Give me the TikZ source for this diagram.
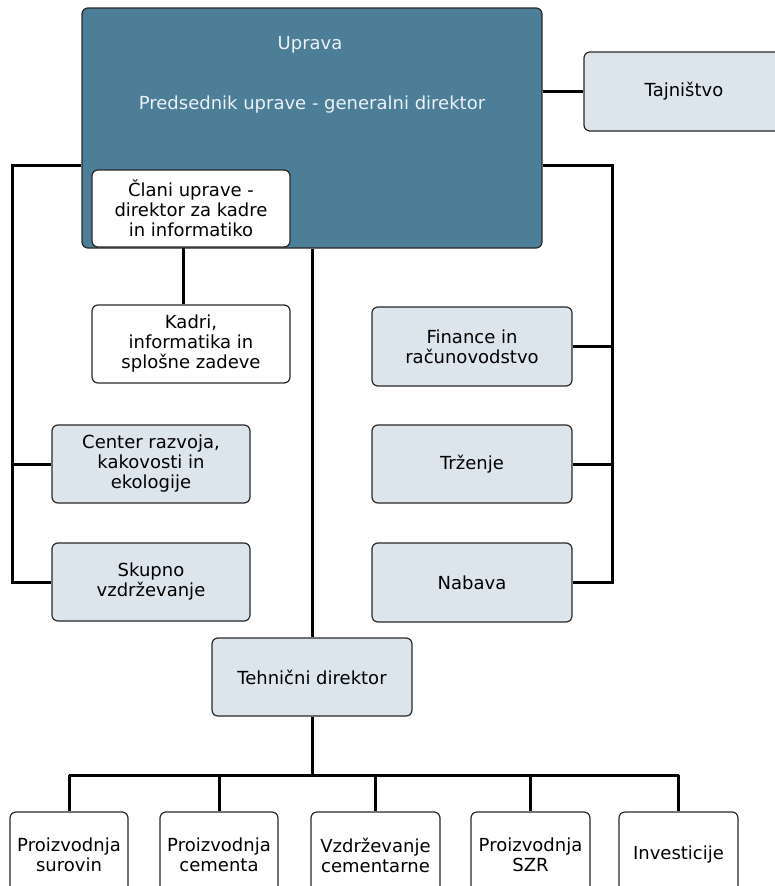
\documentclass[tikz,border=0pt]{standalone}
\usepackage{fontspec}
\setmainfont{DejaVu Sans}
\usepackage{tikz}

\definecolor{mainfill}{RGB}{76,126,152}
\definecolor{lightfill}{RGB}{221,229,236}
\definecolor{boxline}{RGB}{40,40,40}
\definecolor{maintext}{RGB}{236,241,245}

\begin{document}
\begin{tikzpicture}[x=1pt, y=-1pt,
  box/.style={draw=boxline, line width=1.2pt, rounded corners=6pt, align=center, inner sep=0pt, font=\fontsize{18}{20}\selectfont},
  lightbox/.style={box, fill=lightfill},
  whitebox/.style={box, fill=white},
  conn/.style={line width=3pt, black}]
\useasboundingbox (0,0) rectangle (775,886);
\clip (0,0) rectangle (775,886);
\node[box, fill=mainfill, minimum width=460pt, minimum height=240pt] (uprava) at (312,128) {};
\node[font=\fontsize{18}{20}\selectfont, text=maintext] (upravatxt) at (310,45) {Uprava};
\node[font=\fontsize{18}{20}\selectfont, text=maintext] (predsednik) at (312,105) {Predsednik uprave - generalni direktor};
\node[lightbox, minimum width=200pt, minimum height=79pt] (tajn) at (684,91.5) {Tajništvo};
\node[whitebox, minimum width=198pt, minimum height=77pt] (clani) at (191,208.5) {Člani uprave -\\direktor za kadre\\in informatiko};
\node[whitebox, minimum width=198pt, minimum height=78pt] (kadri) at (191,344) {Kadri,\\informatika in\\splošne zadeve};
\node[lightbox, minimum width=198pt, minimum height=78pt] (razvoj) at (151,464) {Center razvoja,\\kakovosti in\\ekologije};
\node[lightbox, minimum width=198pt, minimum height=78pt] (skupno) at (151,582) {Skupno\\vzdrževanje};
\node[lightbox, minimum width=200pt, minimum height=79pt] (finance) at (472,346.5) {Finance in\\računovodstvo};
\node[lightbox, minimum width=200pt, minimum height=78pt] (trzenje) at (472,464) {Trženje};
\node[lightbox, minimum width=200pt, minimum height=79pt] (nabava) at (472,582.5) {Nabava};
\node[lightbox, minimum width=200pt, minimum height=78pt] (tehn) at (312,677) {Tehnični direktor};
\node[whitebox, minimum width=118pt, minimum height=86pt] (surovin) at (69,855) {Proizvodnja\\surovin};
\node[whitebox, minimum width=118pt, minimum height=86pt] (cementa) at (219,855) {Proizvodnja\\cementa};
\node[whitebox, minimum width=129pt, minimum height=86pt] (vzdrz) at (375.5,855) {Vzdrževanje\\cementarne};
\node[whitebox, minimum width=119pt, minimum height=86pt] (szr) at (530.5,855) {Proizvodnja\\SZR};
\node[whitebox, minimum width=119pt, minimum height=86pt] (invest) at (678.5,855) {Investicije};
\coordinate (lrail) at (12,165);
\coordinate (rrail) at (612,165);
\coordinate (bus) at (312,775);
\draw[conn] (uprava.east |- tajn.west) -- (tajn.west);
\draw[conn] (uprava.west |- lrail) -- (lrail) |- (skupno.west);
\draw[conn] (lrail |- razvoj.west) -- (razvoj.west);
\draw[conn] (uprava.east |- rrail) -- (rrail) |- (nabava.east);
\draw[conn] (rrail |- finance.east) -- (finance.east);
\draw[conn] (rrail |- trzenje.east) -- (trzenje.east);
\draw[conn] (clani.south -| 183,0) -- (kadri.north -| 183,0);
\draw[conn] (uprava.south) -- (tehn.north);
\draw[conn] (tehn.south) -- (bus);
\draw[conn] (surovin.north |- bus) -- (invest.north |- bus);
\draw[conn] (surovin.north |- bus) -- (surovin.north);
\draw[conn] (cementa.north |- bus) -- (cementa.north);
\draw[conn] (vzdrz.north |- bus) -- (vzdrz.north);
\draw[conn] (szr.north |- bus) -- (szr.north);
\draw[conn] (invest.north |- bus) -- (invest.north);
\end{tikzpicture}
\end{document}
